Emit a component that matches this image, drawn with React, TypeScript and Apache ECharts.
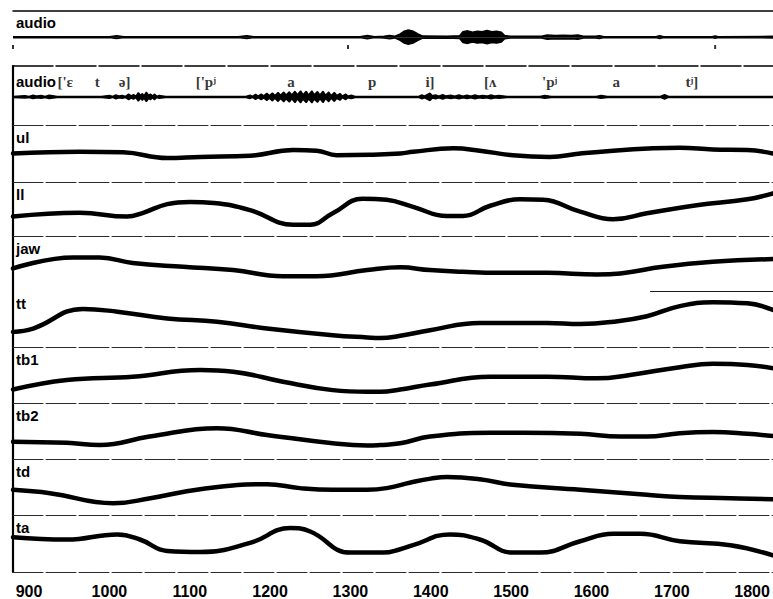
import { useEffect, useRef } from "react";
import * as echarts from "echarts";

// Time axis (ms)
const T_MIN = 880;
const T_MAX = 1826;
const timeTicks = [900, 1000, 1100, 1200, 1300, 1400, 1500, 1600, 1700, 1800];

// Whole-utterance audio overview: [time, envelope amplitude]
const overviewEnvelope: [number, number][] = [
  [880, 0.02], [1000, 0.02], [1009, 0.05], [1018, 0.02], [1160, 0.02], [1171, 0.05],
  [1180, 0.02], [1312, 0.02], [1321, 0.06], [1330, 0.02], [1342, 0.03], [1349, 0.06],
  [1355, 0.03], [1362, 0.12], [1367, 0.22], [1372, 0.26], [1378, 0.22], [1384, 0.12],
  [1390, 0.04], [1420, 0.03], [1436, 0.05], [1440, 0.2], [1446, 0.23], [1452, 0.18],
  [1458, 0.22], [1464, 0.2], [1470, 0.24], [1476, 0.2], [1482, 0.22], [1488, 0.18],
  [1492, 0.06], [1500, 0.03], [1538, 0.03], [1545, 0.08], [1555, 0.06], [1565, 0.07],
  [1575, 0.06], [1583, 0.08], [1590, 0.03], [1605, 0.03], [1610, 0.05], [1616, 0.02],
  [1680, 0.02], [1685, 0.05], [1690, 0.02], [1750, 0.02], [1754, 0.04], [1758, 0.02],
  [1826, 0.03],
];
const overviewMarks = [880, 1297, 1754];

// Segment audio: [time, envelope amplitude]
const audioEnvelope: [number, number][] = [
  [880, 0.02], [895, 0.04], [900, 0.02], [905, 0.06], [910, 0.03], [915, 0.05], [920, 0.02],
  [925, 0.06], [935, 0.02], [990, 0.02], [1000, 0.05], [1004, 0.02], [1008, 0.07],
  [1012, 0.03], [1016, 0.05], [1020, 0.02], [1024, 0.1], [1027, 0.04], [1030, 0.08],
  [1033, 0.03], [1036, 0.15], [1039, 0.05], [1041, 0.12], [1043, 0.04], [1046, 0.17],
  [1049, 0.05], [1051, 0.1], [1054, 0.03], [1056, 0.1], [1059, 0.02], [1062, 0.05],
  [1070, 0.02], [1170, 0.02], [1175, 0.06], [1178, 0.02], [1182, 0.09], [1185, 0.03],
  [1189, 0.1], [1192, 0.04], [1196, 0.13], [1199, 0.05], [1203, 0.14], [1206, 0.05],
  [1210, 0.16], [1213, 0.06], [1217, 0.17], [1220, 0.07], [1224, 0.18], [1227, 0.07],
  [1231, 0.2], [1234, 0.08], [1238, 0.21], [1241, 0.08], [1245, 0.2], [1248, 0.07],
  [1252, 0.21], [1255, 0.08], [1259, 0.19], [1262, 0.07], [1266, 0.2], [1269, 0.06],
  [1273, 0.17], [1276, 0.05], [1280, 0.16], [1283, 0.05], [1287, 0.12], [1290, 0.03],
  [1294, 0.1], [1297, 0.03], [1301, 0.06], [1306, 0.02], [1385, 0.02], [1389, 0.07],
  [1392, 0.03], [1396, 0.09], [1399, 0.13], [1402, 0.04], [1406, 0.07], [1410, 0.03],
  [1415, 0.08], [1419, 0.03], [1425, 0.06], [1430, 0.03], [1435, 0.07], [1440, 0.03],
  [1445, 0.06], [1450, 0.03], [1455, 0.07], [1460, 0.03], [1465, 0.05], [1470, 0.03],
  [1475, 0.07], [1480, 0.03], [1485, 0.05], [1495, 0.02], [1536, 0.02], [1542, 0.05],
  [1550, 0.02], [1606, 0.02], [1612, 0.05], [1620, 0.02], [1686, 0.02], [1691, 0.08],
  [1696, 0.02], [1826, 0.02],
];

// Phonetic transcription aligned to the audio
const phones = ["['ɛ", "t", "ə]", "['pʲ", "a", "p", "i]", "[ʌ", "'pʲ", "a", "tʲ]"];
const phoneTimes = [945, 985, 1019, 1120, 1226, 1327, 1399, 1474, 1548, 1631, 1725];

// Articulator trajectories: [time (ms), position (arbitrary units, 0-10)]
const ul: [number, number][] = [
  [880, 5.0], [963, 5.3], [1017, 5.2], [1072, 4.2], [1113, 4.4], [1175, 4.6], [1229, 5.6],
  [1258, 5.5], [1283, 4.7], [1328, 4.8], [1362, 5.0], [1378, 5.3], [1428, 5.9], [1461, 5.5],
  [1502, 4.7], [1548, 4.4], [1586, 5.0], [1627, 5.5], [1677, 5.9], [1710, 6.0], [1751, 5.7],
  [1794, 5.6], [1826, 5.0],
];
const ll: [number, number][] = [
  [880, 3.6], [963, 4.3], [1022, 3.6], [1042, 4.3], [1072, 5.9], [1100, 6.3], [1130, 6.1],
  [1175, 4.8], [1229, 2.1], [1250, 2.1], [1278, 4.2], [1315, 6.9], [1345, 6.7], [1378, 5.4],
  [1420, 3.7], [1440, 3.7], [1474, 5.6], [1511, 6.8], [1540, 6.7], [1586, 4.5], [1627, 3.1],
  [1669, 4.2], [1731, 5.7], [1794, 6.8], [1826, 7.9],
];
const jaw: [number, number][] = [
  [880, 4.1], [955, 6.1], [988, 6.1], [1029, 5.1], [1092, 4.4], [1154, 3.8], [1216, 2.7],
  [1258, 2.7], [1321, 3.8], [1362, 4.3], [1399, 3.8], [1440, 3.5], [1483, 3.3],
  [1545, 3.3], [1607, 3.0], [1636, 3.2], [1689, 4.4], [1751, 5.3], [1826, 5.8],
];
const tt: [number, number][] = [
  [880, 2.7], [905, 3.3], [967, 6.8], [1010, 6.3], [1072, 5.1], [1134, 4.5], [1196, 3.3],
  [1278, 2.1], [1321, 1.7], [1337, 1.6], [1362, 2.0], [1399, 3.0], [1461, 4.3], [1545, 4.3],
  [1586, 4.1], [1627, 4.5], [1669, 5.5], [1710, 7.3], [1751, 8.0], [1794, 7.8], [1826, 6.6],
];
const tb1: [number, number][] = [
  [880, 2.4], [947, 4.1], [1029, 4.7], [1113, 5.9], [1154, 5.6], [1216, 3.8], [1278, 2.3],
  [1321, 2.0], [1337, 2.0], [1362, 2.4], [1399, 3.3], [1474, 4.7], [1545, 4.7], [1607, 4.4],
  [1648, 5.0], [1710, 6.4], [1751, 7.0], [1794, 6.8], [1826, 6.2],
];
const tb2: [number, number][] = [
  [880, 3.1], [947, 2.9], [988, 2.5], [1050, 4.0], [1134, 5.5], [1196, 4.3], [1278, 2.8],
  [1321, 2.4], [1337, 2.5], [1362, 2.8], [1399, 4.0], [1474, 4.7], [1515, 4.7], [1586, 4.5],
  [1636, 4.0], [1669, 4.0], [1710, 4.6], [1751, 4.8], [1794, 4.5], [1826, 4.1],
];
const td: [number, number][] = [
  [880, 4.5], [926, 3.9], [1005, 2.1], [1051, 3.0], [1113, 4.6], [1196, 5.5], [1237, 4.8],
  [1278, 4.5], [1321, 4.5], [1345, 4.8], [1375, 5.8], [1400, 6.5], [1420, 6.8], [1461, 6.4],
  [1502, 5.4], [1586, 4.5], [1669, 3.6], [1710, 3.2], [1773, 3.0], [1826, 2.8],
];
const ta: [number, number][] = [
  [880, 6.1], [947, 5.7], [1010, 6.6], [1038, 5.7], [1072, 3.7], [1113, 3.5], [1175, 5.1],
  [1225, 7.7], [1250, 7.1], [1300, 3.4], [1341, 3.4], [1362, 4.0], [1378, 4.7], [1424, 6.6],
  [1461, 5.7], [1502, 3.4], [1536, 3.4], [1586, 5.4], [1627, 6.7], [1661, 6.7], [1710, 5.4],
  [1773, 4.7], [1826, 2.9],
];

const channelNames = ["ul", "ll", "jaw", "tt", "tb1", "tb2", "td", "ta"];
const channels = [ul, ll, jaw, tt, tb1, tb2, td, ta];
const ttTopRuleFrom = 1673;

// Layout
const PLOT_LEFT = 13;
const PLOT_WIDTH = 760;
const OVERVIEW_TOP = 11;
const OVERVIEW_HEIGHT = 55;
const panelEdges = [66, 125, 182, 236, 291, 347, 403, 459, 515, 573];

const SANS = "'Liberation Sans', Arial, Helvetica, sans-serif";
const SERIF = "'Liberation Serif', 'DejaVu Serif', serif";
const ruleStyle = { color: "#2a2a2a", width: 1, type: [30, 3] as number[] };

function buildOption(): echarts.EChartsOption {
  const grids: any[] = [
    { left: PLOT_LEFT, width: PLOT_WIDTH, top: OVERVIEW_TOP, height: OVERVIEW_HEIGHT },
  ];
  for (let i = 0; i < panelEdges.length - 1; i++) {
    grids.push({
      left: PLOT_LEFT,
      width: PLOT_WIDTH,
      top: panelEdges[i],
      height: panelEdges[i + 1] - panelEdges[i],
    });
  }

  const ttGrid = 2 + channelNames.indexOf("tt");
  const xAxes: any[] = grids.map((_, g) => ({
    type: "value",
    gridIndex: g,
    min: T_MIN,
    max: T_MAX,
    position: "top",
    axisLine: {
      show: g !== ttGrid,
      onZero: false,
      lineStyle:
        g === 0
          ? { color: "#000", width: 1.5 }
          : g === 1
          ? { color: "#000", width: 1.5, type: [40, 3] }
          : ruleStyle,
    },
    axisTick: { show: false },
    axisLabel: { show: false },
    splitLine: { show: false },
  }));
  const lastGrid = grids.length - 1;
  xAxes.push({
    type: "value",
    gridIndex: lastGrid,
    min: T_MIN,
    max: T_MAX,
    position: "bottom",
    axisLine: { show: true, onZero: false, lineStyle: ruleStyle },
    axisTick: { show: false },
    splitLine: { show: false },
    axisLabel: {
      show: true,
      customValues: timeTicks,
      formatter: (v: number) => String(v),
      margin: 11,
      color: "#000",
      fontFamily: SANS,
      fontWeight: "bold",
      fontSize: 16,
    },
  });

  const yAxes: any[] = grids.map((_, g) => ({
    type: "value",
    gridIndex: g,
    min: g === 0 ? -1.05 : g === 1 ? -1 : 0,
    max: g === 0 ? 0.95 : g === 1 ? 1.1 : 10,
    axisLine: { show: g >= 1, onZero: false, lineStyle: { color: "#000", width: 2.2 } },
    axisTick: { show: false },
    axisLabel: { show: false },
    splitLine: { show: false },
  }));

  const envelopeSeries = (data: [number, number][], grid: number, sign: number) => ({
    type: "line",
    xAxisIndex: grid,
    yAxisIndex: grid,
    data: data.map(([t, a]) => [t, sign * a]),
    symbol: "none",
    lineStyle: { color: "#000", width: 1.4 },
    areaStyle: { color: "#000", opacity: 1, origin: "auto" },
    silent: true,
  });

  const series: any[] = [
    envelopeSeries(overviewEnvelope, 0, 1),
    envelopeSeries(overviewEnvelope, 0, -1),
    {
      type: "scatter",
      xAxisIndex: 0,
      yAxisIndex: 0,
      data: overviewMarks.map((t) => [t, -0.36]),
      symbol: "rect",
      symbolSize: [2, 4],
      itemStyle: { color: "#000" },
    },
    envelopeSeries(audioEnvelope, 1, 1),
    envelopeSeries(audioEnvelope, 1, -1),
    {
      type: "scatter",
      xAxisIndex: 1,
      yAxisIndex: 1,
      data: phoneTimes.map((t, i) => ({ value: [t, 0.53], name: phones[i] })),
      symbolSize: 1,
      itemStyle: { color: "rgba(0,0,0,0)" },
      label: {
        show: true,
        position: "inside",
        formatter: "{b}",
        color: "#000",
        fontFamily: SERIF,
        fontWeight: "bold",
        fontSize: 15,
      },
    },
  ];

  channels.forEach((data, i) => {
    const g = 2 + i;
    const s: any = {
      type: "line",
      name: channelNames[i],
      xAxisIndex: g,
      yAxisIndex: g,
      data,
      symbol: "none",
      smooth: 0.45,
      lineStyle: { color: "#000", width: 4.5, cap: "round", join: "round" },
    };
    if (g === ttGrid) {
      s.markLine = {
        silent: true,
        symbol: "none",
        label: { show: false },
        lineStyle: { color: "#1a1a1a", width: 1.2, type: "solid" },
        data: [[{ coord: [ttTopRuleFrom, 10] }, { coord: [T_MAX, 10] }]],
      };
    }
    series.push(s);
  });

  const labelStyle = {
    color: "#000",
    fontFamily: SANS,
    fontWeight: "bold" as const,
    fontSize: 15,
  };
  const titles: any[] = [
    { text: "audio", left: 16, top: 15, padding: 0, textStyle: labelStyle },
    { text: "audio", left: 16, top: panelEdges[0] + 8, padding: 0, textStyle: labelStyle },
    ...channelNames.map((name, i) => ({
      text: name,
      left: 16,
      top: panelEdges[i + 1] + 5,
      padding: 0,
      textStyle: labelStyle,
    })),
  ];

  return {
    animation: false,
    backgroundColor: "#fff",
    title: titles,
    grid: grids,
    xAxis: xAxes,
    yAxis: yAxes,
    series,
  };
}

export default function App() {
  const ref = useRef<HTMLDivElement>(null);
  useEffect(() => {
    if (!ref.current) return;
    const chart = echarts.init(ref.current, undefined, { renderer: "svg" });
    chart.setOption(buildOption());
    return () => chart.dispose();
  }, []);
  return (
    <div
      ref={ref}
      style={{ position: "absolute", left: 0, top: 0, width: 773, height: 599, background: "#fff" }}
    />
  );
}
